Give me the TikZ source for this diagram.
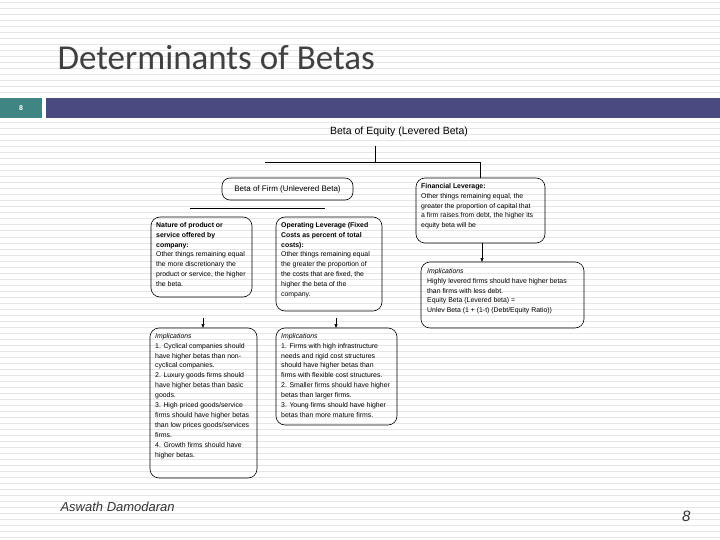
\documentclass[tikz,border=0pt]{standalone}
\usepackage{fontspec}
\setmainfont{Liberation Sans}
\newfontfamily\titlefont{Carlito}
\usetikzlibrary{arrows.meta}
\definecolor{teal8}{HTML}{3F8583}
\definecolor{navybar}{HTML}{4B4A80}
\definecolor{stripe}{HTML}{E6E6E6}
\tikzset{
 tx/.style={inner sep=0pt, anchor=north west, align=left, font=\fontsize{6.9}{9.9}\selectfont},
 frame/.style={draw=black, line width=0.6pt, rounded corners=9pt},
 ln/.style={line width=0.6pt},
 ar/.style={line width=0.6pt, -{Triangle[length=4pt,width=3pt]}},
}
\begin{document}
\begin{tikzpicture}[x=1pt,y=-1pt]
\useasboundingbox (0,0) rectangle (720,540);
\fill[white] (0,0) rectangle (720,540);
\foreach \i in {0,...,89} {\draw[stripe, line width=1pt] (0,{\i*6+3}) -- (720,{\i*6+3});}
\node[anchor=west, font=\titlefont\fontsize{35}{40}\selectfont, text=black!75] (title) at (54,58) {Determinants of Betas};
\fill[white] (0,96) rectangle (720,120);
\fill[teal8] (0,98) rectangle (42,118);
\node[font=\bfseries\fontsize{7}{8}\selectfont, text=white] (num) at (21,108) {8};
\fill[navybar] (46,98) rectangle (720,118);

\node[font=\fontsize{10.5}{12}\selectfont] (eq) at (399,132) {Beta of Equity (Levered Beta)};
\coordinate (c1) at (375,162);
\coordinate (cl) at (265,162);
\coordinate (cr) at (480,162);
\draw[ln] (375,146) -- (c1);
\draw[ln] (cl) -- (cr) -- (480,178);

\draw[frame, rounded corners=8pt] (222,178) rectangle (353,200);
\node[font=\fontsize{8}{9}\selectfont] (firm) at (287.5,189) {Beta of Firm (Unlevered Beta)};
\draw[ln] (190,208) -- (325,208);

\draw[frame] (151,217) rectangle (252,297);
\node[tx] (nat) at (156,222) {\textbf{Nature of product or}\\\textbf{service offered by}\\\textbf{company:}\\Other things remaining equal\\the more discretionary the\\product or service, the higher\\the beta.};
\draw[frame] (276,217) rectangle (382,311);
\node[tx] (op) at (281,222) {\textbf{Operating Leverage (Fixed}\\\textbf{Costs as percent of total}\\\textbf{costs):}\\Other things remaining equal\\the greater the proportion of\\the costs that are fixed, the\\higher the beta of the\\company.};
\draw[frame] (416,178) rectangle (545,243);
\node[tx] (fin) at (421,183) {\textbf{Financial Leverage:}\\Other things remaining equal, the\\greater the proportion of capital that\\a firm raises from debt, the higher its\\equity beta will be};
\draw[frame] (421,262) rectangle (584,328);
\node[tx] (imr) at (427,268) {\textit{Implications}\\Highly levered firms should have higher betas\\than firms with less debt.\\Equity Beta (Levered beta) =\\Unlev Beta (1 + (1-t) (Debt/Equity Ratio))};
\draw[frame] (150,328) rectangle (257,478);
\node[tx] (iml) at (155,333) {\textit{Implications}\\1. Cyclical companies should\\have higher betas than non-\\cyclical companies.\\2. Luxury goods firms should\\have higher betas than basic\\goods.\\3. High priced goods/service\\firms should have higher betas\\than low prices goods/services\\firms.\\4. Growth firms should have\\higher betas.};
\draw[frame] (276,328) rectangle (397,425);
\node[tx] (imm) at (281,333) {\textit{Implications}\\1. Firms with high infrastructure\\needs and rigid cost structures\\should have higher betas than\\firms with flexible cost structures.\\2. Smaller firms should have higher\\betas than larger firms.\\3. Young firms should have higher\\betas than more mature firms.};
\coordinate (a1s) at (482,243); \coordinate (a1e) at (482,262);
\coordinate (a2s) at (203,318); \coordinate (a2e) at (203,328);
\coordinate (a3s) at (336,318); \coordinate (a3e) at (336,328);
\draw[ar] (a1s) -- (a1e);
\draw[ar] (a2s) -- (a2e);
\draw[ar] (a3s) -- (a3e);

\node[anchor=west, font=\itshape\fontsize{13}{15}\selectfont, text=black!80] (auth) at (57,507) {Aswath Damodaran};
\node[anchor=east, font=\itshape\fontsize{15}{17}\selectfont, text=black!80] (pg) at (694,516) {8};
\end{tikzpicture}
\end{document}
